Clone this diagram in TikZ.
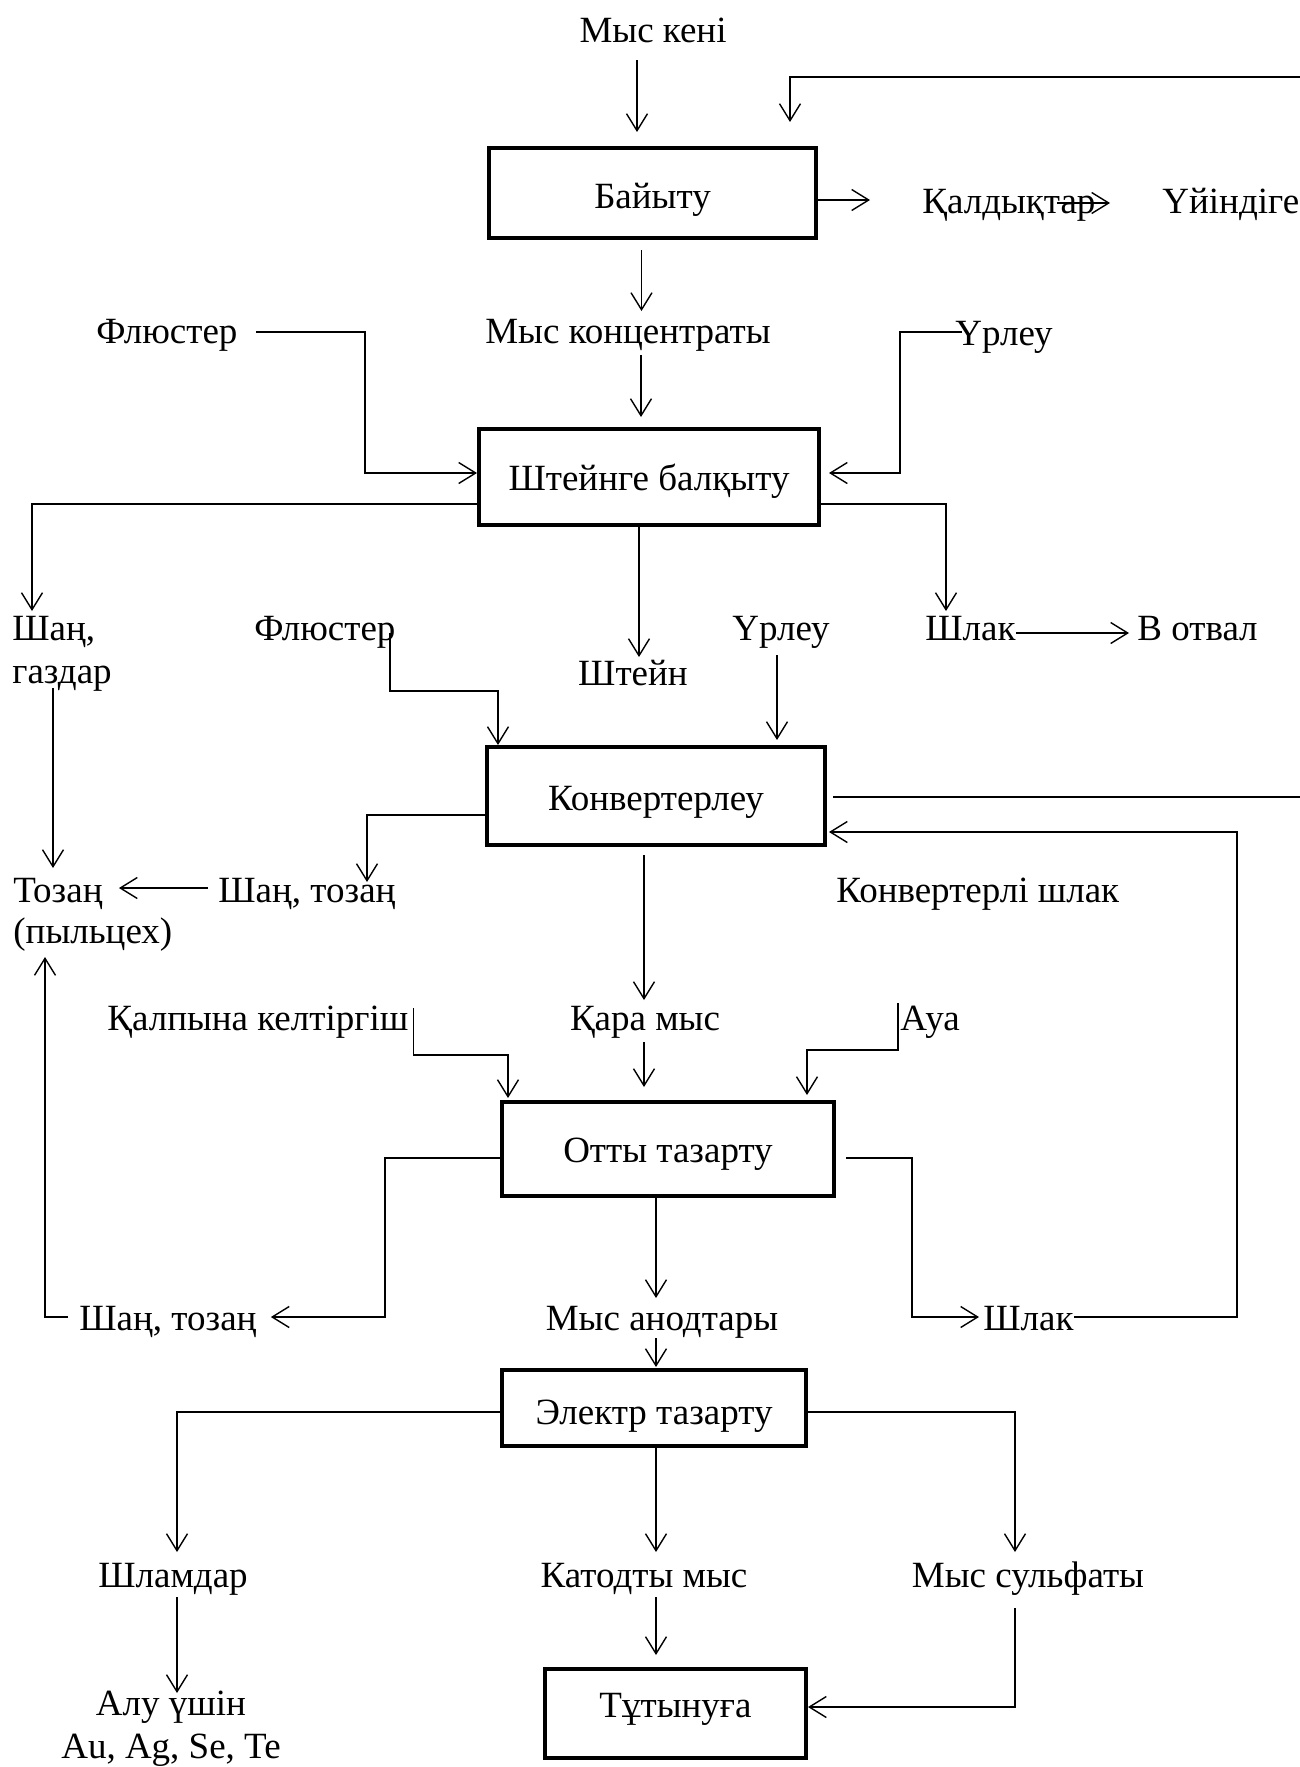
\documentclass[tikz,border=0pt]{standalone}
\usepackage{fontspec}
\setmainfont{Liberation Serif}
\usetikzlibrary{arrows.meta,calc}
\begin{document}
\begin{tikzpicture}[x=0.5pt,y=-0.5pt,
  every node/.style={font=\fontsize{18.5}{22}\selectfont},
  lbl/.style={inner sep=0pt,anchor=base},
  lblw/.style={inner sep=0pt,anchor=base west},
  box/.style={draw,line width=2pt,outer sep=1pt,inner sep=0pt,text depth=0pt},
  conn/.style={line width=0.7pt},
  arr/.style={conn,-{Straight Barb[length=8.5pt,width=10.5pt]}}]
\useasboundingbox (0,0) rectangle (1300,1767);
% boxes
\node[box,minimum width=163.5pt,minimum height=45pt,text height=15pt] (bay) at (652.5,193) {Байыту};
\node[box,minimum width=170pt,minimum height=48pt,text height=13pt] (shb) at (649,477) {Штейнге балқыту};
\node[box,minimum width=169pt,minimum height=49pt,text height=14pt] (konv) at (656,796) {Конвертерлеу};
\node[box,minimum width=166pt,minimum height=47pt,text height=13pt] (otty) at (668,1149) {Отты тазарту};
\node[box,minimum width=152pt,minimum height=38pt,text height=16pt] (el) at (654,1408) {Электр тазарту};
\node[box,minimum width=130.5pt,minimum height=44.5pt,text height=3.5pt] (tut) at (675.5,1713.5) {Тұтынуға};
% labels
\node[lbl] (ore) at (653,42) {Мыс кені};
\node[lblw] (tail) at (922,213) {Қалдықтар};
\node[lblw] (dump) at (1162,213) {Үйіндіге};
\node[lbl] (conc) at (628,343) {Мыс концентраты};
\node[lblw] (flux1) at (96,343) {Флюстер};
\node[lblw] (blow1) at (955,345) {Үрлеу};
\node[lblw] (dust1) at (12,640) {Шаң,};
\node[lblw] (gas) at (12,683) {газдар};
\node[lblw] (flux2) at (254,640) {Флюстер};
\node[lbl] (matte) at (633,685) {Штейн};
\node[lbl] (blow2) at (781,640) {Үрлеу};
\node[lblw] (slag1) at (925,640) {Шлак};
\node[lblw] (otv) at (1137,640) {В отвал};
\node[lblw] (tozan) at (13,902) {Тозаң};
\node[lblw] (pyl) at (13,943) {(пыльцех)};
\node[lblw] (dust2) at (218,902) {Шаң, тозаң};
\node[lblw] (konvslag) at (836,902) {Конвертерлі шлак};
\node[lblw] (red) at (107,1030) {Қалпына келтіргіш};
\node[lbl] (black) at (645,1030) {Қара мыс};
\node[lblw] (air) at (900,1030) {Ауа};
\node[lblw] (dust3) at (79,1330) {Шаң, тозаң};
\node[lbl] (anode) at (662,1330) {Мыс анодтары};
\node[lblw] (slag2) at (983,1330) {Шлак};
\node[lbl] (slime) at (173,1587) {Шламдар};
\node[lbl] (cath) at (644,1587) {Катодты мыс};
\node[lbl] (sulf) at (1028,1587) {Мыс сульфаты};
\node[lbl] (extract) at (171,1715) {Алу үшін};
\node[lbl] (metals) at (171,1758) {Au, Ag, Se, Te};
\coordinate (fbR) at (1300,77);
\coordinate (kR) at (1300,797);
% connectors
\draw[arr] ($(ore.base)+(-16,18)$) -- ($(ore.base)+(-16,90)$);
\draw[arr] (fbR) -| ($(bay.north)+(137.5,-24)$);
\draw[arr] ($(bay.east)+(0,7)$) -- ($(bay.east)+(52,7)$);
\draw[arr] ($(dump.base west)+(-105,-10)$) -- ($(dump.base west)+(-52,-10)$);
\draw[arr] ($(bay.south)+(-11,10)$) -- ($(bay.south)+(-11,71)$);
\draw[arr] ($(shb.north)+(-8,-72)$) -- ($(shb.north)+(-8,-10)$);
\draw[arr] ($(flux1.base east)+(18,-11)$) -| ($(shb.west)+(-112,-4)$) -- ($(shb.west)+(0,-4)$);
\draw[arr] ($(blow1.base west)+(7,-13)$) -| ($(shb.east)+(79,-4)$) -- ($(shb.east)+(8,-4)$);
\draw[arr] ($(shb.west)+(0,27)$) -| ($(dust1.base west)+(20,-29)$);
\draw[arr] ($(shb.east)+(0,27)$) -| ($(slag1.base west)+(21,-29)$);
\draw[arr] ($(shb.south)+(-10,0)$) -- ($(matte.base)+(6,-28)$);
\draw[arr] ($(flux2.base east)+(-6,-7)$) |- ($(konv.north)+(-158,-54)$) -- ($(konv.north)+(-158,0)$);
\draw[arr] ($(blow2.base)+(-4,15)$) -- ($(konv.north)+(121,-5)$);
\draw[arr] ($(slag1.base east)+(0,-7)$) -- ($(otv.base west)+(-8,-7)$);
\draw[conn] ($(konv.east)+(6,1)$) -- (kR);
\draw[arr] ($(slag2.base east)+(0,-13)$) -| ($(konv.east)+(410,36)$) -- ($(konv.east)+(2,36)$);
\draw[arr] ($(konv.west)+(0,19)$) -| ($(dust2.base west)+(149,-20)$);
\draw[arr] ($(dust2.base west)+(-10,-14)$) -- ($(tozan.base east)+(16,-14)$);
\draw[arr] ($(gas.base west)+(41,5)$) -- ($(tozan.base west)+(40,-34)$);
\draw[arr] ($(dust3.base west)+(-11,-13)$) -| ($(pyl.base west)+(32,14)$);
\draw[arr] ($(otty.west)+(0,9)$) -| ($(otty.west)+(-115,168)$) -- ($(dust3.base east)+(14,-13)$);
\draw[arr] ($(otty.east)+(10,9)$) -| ($(otty.east)+(76,168)$) -- ($(slag2.base west)+(-4,-13)$);
\draw[arr] ($(konv.south)+(-12,8)$) -- ($(black.base)+(-1,-30)$);
\draw[arr] ($(black.base)+(-1,12)$) -- ($(otty.north)+(-24,-13)$);
\draw[arr] ($(red.base east)+(5,-22)$) |- ($(otty.north)+(-160,-45)$) -- ($(otty.north)+(-160,-2)$);
\draw[arr] ($(air.base west)+(-2,-27)$) |- ($(otty.north)+(139,-50)$) -- ($(otty.north)+(139,-5)$);
\draw[arr] ($(otty.south)+(-12,0)$) -- ($(otty.south)+(-12,100)$);
\draw[arr] ($(anode.base)+(-6,8)$) -- ($(el.north)+(2,-1)$);
\draw[arr] ($(el.west)+(0,4)$) -| ($(slime.base)+(4,-35)$);
\draw[arr] ($(el.east)+(0,4)$) -| ($(sulf.base)+(-13,-35)$);
\draw[arr] ($(el.south)+(2,0)$) -- ($(cath.base)+(12,-35)$);
\draw[arr] ($(slime.base)+(4,10)$) -- ($(extract.base)+(6,-22)$);
\draw[arr] ($(cath.base)+(12,10)$) -- ($(tut.north)+(-19.5,-12)$);
\draw[arr] ($(sulf.base)+(-13,21)$) |- ($(tut.east)+(0,-6.5)$);
\end{tikzpicture}
\end{document}
